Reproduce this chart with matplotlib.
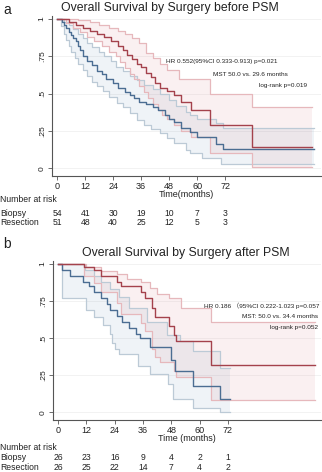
import numpy as np
import matplotlib.pyplot as plt
from matplotlib.transforms import blended_transform_factory

plt.rcParams['font.family'] = ['Liberation Sans', 'Noto Sans CJK SC', 'DejaVu Sans']

# panel a : before PSM
a_bio_t = [0, 2, 3, 4, 5, 6, 7, 8, 9, 10, 11, 13, 15, 17, 19, 21, 24, 26, 29, 31, 33, 35, 38, 41, 43, 46, 48, 50, 53, 57, 60, 68, 71, 110]
a_bio_s = [1.0, 0.98, 0.96, 0.94, 0.91, 0.89, 0.87, 0.85, 0.82, 0.79, 0.75, 0.72, 0.69, 0.65, 0.63, 0.60, 0.57, 0.54, 0.51, 0.49, 0.47, 0.445, 0.43, 0.41, 0.39, 0.36, 0.33, 0.31, 0.27, 0.245, 0.21, 0.16, 0.13, 0.13]
a_bio_lo_t = [0, 1.5, 3, 4, 5, 6, 7.5, 9, 11, 13, 15, 17, 19.5, 22, 25.5, 28, 31, 34, 37, 40, 44, 47, 50, 55, 57, 62, 70, 110]
a_bio_lo = [1.0, 0.95, 0.9, 0.86, 0.82, 0.78, 0.74, 0.70, 0.66, 0.62, 0.58, 0.55, 0.52, 0.48, 0.44, 0.41, 0.37, 0.32, 0.29, 0.265, 0.235, 0.20, 0.17, 0.12, 0.10, 0.07, 0.03, 0.03]
a_bio_hi_t = [0, 3, 5, 7, 9, 11, 13, 15, 18, 20, 23, 25, 28, 31, 34, 37, 41, 44, 48, 51, 55, 57, 60, 68, 71, 110]
a_bio_hi = [1.0, 0.98, 0.96, 0.93, 0.9, 0.87, 0.84, 0.81, 0.78, 0.75, 0.72, 0.68, 0.65, 0.62, 0.59, 0.56, 0.53, 0.50, 0.46, 0.42, 0.38, 0.36, 0.33, 0.30, 0.27, 0.27]

a_res_t = [0, 5, 8, 11, 14, 17, 20, 23, 26, 28, 30, 32, 34, 36, 38, 40, 42, 44, 47, 50, 53, 57.5, 65.5, 83.5, 109]
a_res_s = [1.0, 0.98, 0.96, 0.94, 0.92, 0.9, 0.88, 0.85, 0.82, 0.79, 0.76, 0.73, 0.7, 0.68, 0.64, 0.61, 0.57, 0.54, 0.52, 0.49, 0.445, 0.39, 0.29, 0.14, 0.14]
a_res_lo_t = [0, 4, 7, 10, 13, 16, 19, 22, 25, 27, 29, 31, 33, 35, 37, 39, 41, 43, 45, 47, 50, 53, 57.5, 65.5, 83.5, 109]
a_res_lo = [1.0, 0.97, 0.94, 0.91, 0.88, 0.85, 0.82, 0.78, 0.75, 0.71, 0.67, 0.63, 0.6, 0.55, 0.51, 0.47, 0.43, 0.39, 0.36, 0.33, 0.29, 0.25, 0.21, 0.10, 0.01, 0.01]
a_res_hi_t = [0, 9, 14, 18, 22, 26, 29, 32, 35, 38, 41, 44, 47, 52, 65.5, 83.5, 109]
a_res_hi = [1.0, 0.99, 0.98, 0.96, 0.94, 0.92, 0.9, 0.87, 0.84, 0.77, 0.74, 0.70, 0.66, 0.6, 0.5, 0.41, 0.41]

# panel b : after PSM
b_bio_t = [0, 1.5, 5, 10.5, 13, 15, 18, 20.5, 22, 25, 27, 30, 33, 34.5, 39, 48, 49.5, 57, 68.5, 73]
b_bio_s = [1.0, 0.96, 0.92, 0.88, 0.85, 0.81, 0.77, 0.73, 0.69, 0.65, 0.61, 0.57, 0.53, 0.5, 0.44, 0.35, 0.28, 0.18, 0.09, 0.09]
b_bio_lo_t = [0, 1.5, 12, 15, 19, 22, 23, 24, 26, 34, 39, 46.5, 48.5, 57, 68.5, 73]
b_bio_lo = [1.0, 0.77, 0.69, 0.64, 0.59, 0.53, 0.47, 0.43, 0.39, 0.31, 0.26, 0.19, 0.09, 0.03, 0.0, 0.0]
b_bio_hi_t = [0, 11.5, 15, 18, 22, 26, 30, 37.5, 46, 51.5, 57, 68.5, 73]
b_bio_hi = [1.0, 0.96, 0.92, 0.88, 0.83, 0.78, 0.70, 0.61, 0.52, 0.48, 0.41, 0.30, 0.30]

b_res_t = [0, 11, 15, 18, 25, 26.5, 35, 37, 40, 41, 47, 49, 50, 65, 109]
b_res_s = [1.0, 0.98, 0.96, 0.92, 0.88, 0.85, 0.81, 0.77, 0.70, 0.64, 0.58, 0.52, 0.48, 0.32, 0.32]
b_res_lo_t = [0, 11, 15, 18, 25, 26.5, 35, 37, 40, 41, 43, 49, 50, 65, 109]
b_res_lo = [1.0, 0.92, 0.87, 0.81, 0.74, 0.66, 0.60, 0.55, 0.43, 0.37, 0.34, 0.28, 0.24, 0.08, 0.08]
b_res_hi_t = [0, 12, 18, 25, 29, 35, 39, 42, 47, 52, 65, 109]
b_res_hi = [1.0, 0.98, 0.95, 0.93, 0.9, 0.88, 0.84, 0.8, 0.77, 0.70, 0.61, 0.61]

risk_times = [0, 12, 24, 36, 48, 60, 72]
a_risk_bio = [54, 41, 30, 19, 10, 7, 3]
a_risk_res = [51, 48, 40, 25, 12, 5, 3]
b_risk_bio = [26, 23, 16, 9, 4, 2, 1]
b_risk_res = [26, 25, 22, 14, 7, 4, 2]

a_notes = ['HR 0.552(95%CI 0.333-0.913) p=0.021', 'MST 50.0 vs. 29.6 months', 'log-rank p=0.019']
b_notes = ['HR 0.186 \uff0895%CI 0.222-1.023 p=0.057', 'MST: 50.0 vs. 34.4 months', 'log-rank p=0.052']

blue = '#4b6d92'
red = '#a4424c'
blue_ci = '#bccad6'
red_ci = '#e6b8bc'

fig = plt.figure(figsize=(3.22, 4.72), dpi=100)


def band(ax, lt, lo, ht, hi, col, fcol):
    grid = np.unique(np.concatenate([lt, ht]))
    lo_g = np.array(lo)[np.searchsorted(lt, grid, side='right') - 1]
    hi_g = np.array(hi)[np.searchsorted(ht, grid, side='right') - 1]
    ax.fill_between(grid, lo_g, hi_g, step='post', color=fcol, alpha=0.11, lw=0)
    ax.step(lt, lo, where='post', color=col, lw=0.9)
    ax.step(ht, hi, where='post', color=col, lw=0.9)


def panel(rect, xmax, title, title_x, letter, ly, bio, res, notes, note_y, note_x, risk_b, risk_r, xlab, rows_y):
    ax = fig.add_axes(rect)
    band(ax, bio[2], bio[3], bio[4], bio[5], blue_ci, '#6f93b8')
    band(ax, res[2], res[3], res[4], res[5], red_ci, '#d77f88')
    ax.step(bio[0], bio[1], where='post', color=blue, lw=1.0)
    ax.step(res[0], res[1], where='post', color=red, lw=1.0)
    ax.set_xlim(-2.2, xmax)
    ax.set_ylim(-0.052, 1.02)
    ax.set_yticks([0, 0.25, 0.5, 0.75, 1])
    ax.set_yticklabels(['0', '.25', '.5', '.75', '1'], rotation=90, va='center', fontsize=6)
    ax.set_xticks(risk_times)
    ax.set_xticklabels([str(t) for t in risk_times], fontsize=6.5)
    for y in [0, 0.25, 0.5, 0.75, 1]:
        ax.axhline(y, color='#f0f0f0', lw=0.6, zorder=0)
    for s in ['top', 'right']:
        ax.spines[s].set_visible(False)
    for s in ['left', 'bottom']:
        ax.spines[s].set_color('#555555')
        ax.spines[s].set_linewidth(0.8)
    ax.tick_params(length=3, width=0.6, color='#555555', pad=1.5, labelcolor='#222222')
    ax.set_xlabel(xlab, fontsize=6.5, labelpad=-1, color='#222222')
    fig.text(title_x, rect[1] + rect[3] + 0.018, title,
             ha='center', va='center', fontsize=8.8, color='#222222')
    fig.text(0.01, ly, letter, fontsize=10, va='center', color='#222222')
    for txt, yy, xx in zip(notes, note_y, note_x):
        fig.text(xx, yy, txt, ha='right', va='center', fontsize=4.6, color='#222222')
    tr = blended_transform_factory(ax.transData, fig.transFigure)
    fig.text(0.0, rows_y[0], 'Number at risk', fontsize=6.2, va='center', color='#222222')
    fig.text(0.0, rows_y[1], 'Biopsy', fontsize=6.2, va='center', color='#222222')
    fig.text(0.0, rows_y[2], 'Resection', fontsize=6.2, va='center', color='#222222')
    for t, nb, nr in zip(risk_times, risk_b, risk_r):
        ax.text(t, rows_y[1], str(nb), transform=tr, ha='center', va='center', fontsize=6.2, color='#222222')
        ax.text(t, rows_y[2], str(nr), transform=tr, ha='center', va='center', fontsize=6.2, color='#222222')
    return ax


H = 472.0
W = 322.0
bio_a = (a_bio_t, a_bio_s, a_bio_lo_t, a_bio_lo, a_bio_hi_t, a_bio_hi)
res_a = (a_res_t, a_res_s, a_res_lo_t, a_res_lo, a_res_hi_t, a_res_hi)
bio_b = (b_bio_t, b_bio_s, b_bio_lo_t, b_bio_lo, b_bio_hi_t, b_bio_hi)
res_b = (b_res_t, b_res_s, b_res_lo_t, b_res_lo, b_res_hi_t, b_res_hi)

panel([52 / W, 1 - 176 / H, 269 / W, 160 / H], 113, 'Overall Survival by Surgery before PSM', 170 / W, 'a', 1 - 10 / H,
      bio_a, res_a, a_notes, [1 - 62 / H, 1 - 74 / H, 1 - 85 / H], [278 / W, 288 / W, 307 / W],
      a_risk_bio, a_risk_res, 'Time(months)', [1 - 200 / H, 1 - 214 / H, 1 - 222 / H])
panel([53 / W, 1 - 420 / H, 268 / W, 159 / H], 111.5, 'Overall Survival by Surgery after PSM', 186 / W, 'b', 1 - 244 / H,
      bio_b, res_b, b_notes, [1 - 306 / H, 1 - 317 / H, 1 - 328 / H], [319 / W, 318 / W, 318 / W],
      b_risk_bio, b_risk_res, 'Time (months)', [1 - 448 / H, 1 - 458 / H, 1 - 467 / H])

plt.savefig('out.png', dpi=100)
